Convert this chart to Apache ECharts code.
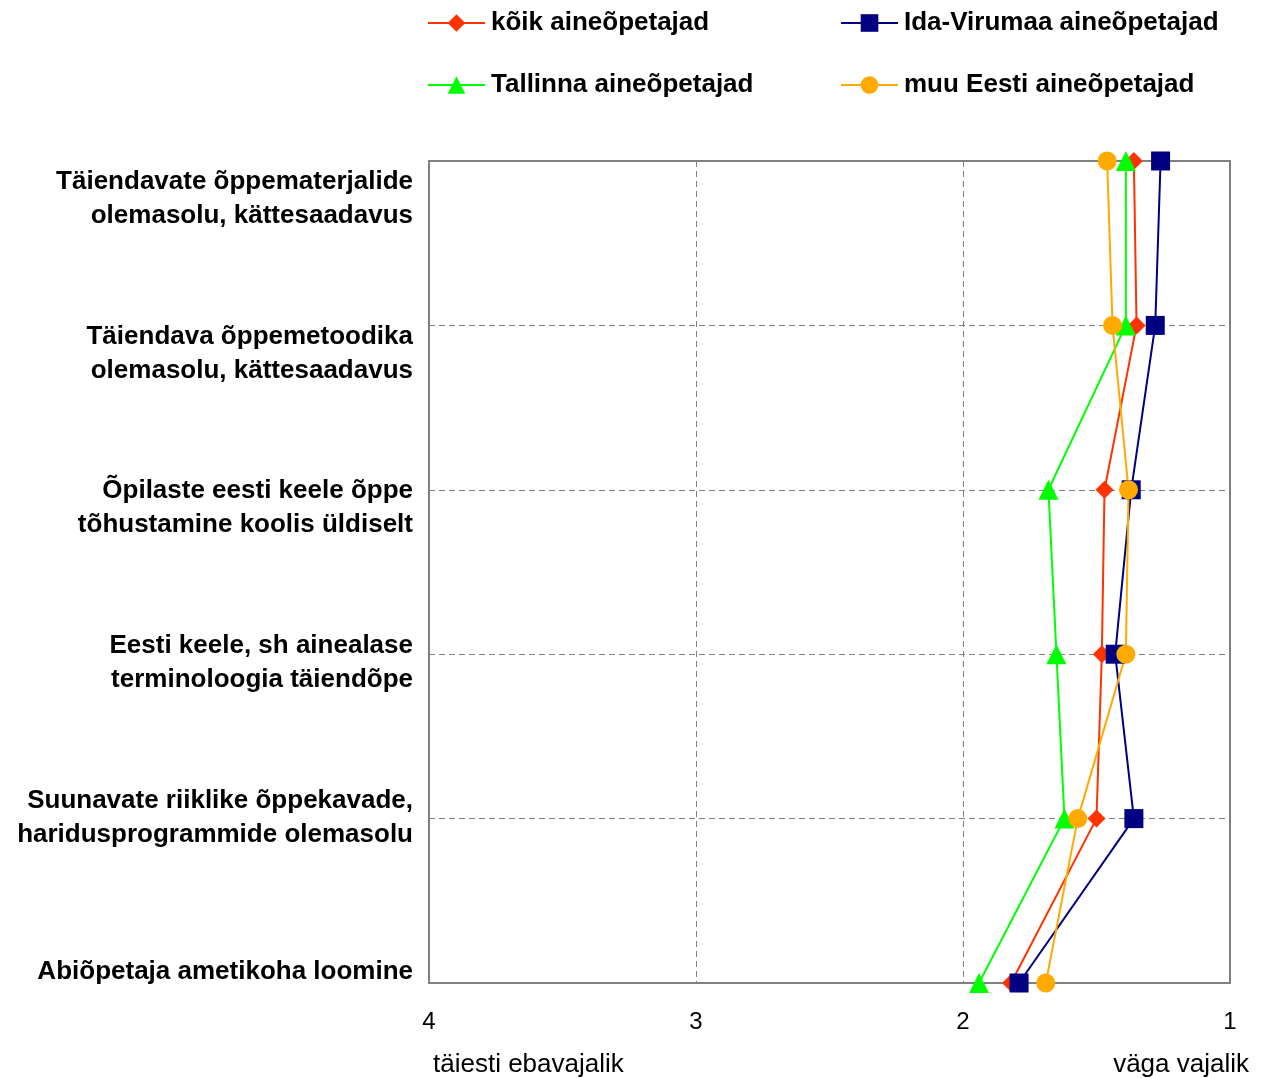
<!DOCTYPE html>
<html>
<head>
<meta charset="utf-8">
<script src="https://cdn.jsdelivr.net/npm/echarts@6/dist/echarts.min.js"></script>
<style>
  html, body { margin: 0; padding: 0; background: #fff; }
  #chart { width: 1268px; height: 1078px; }
</style>
</head>
<body>
<div id="chart"></div>
<script>
// kategooriad (ülevalt alla)
var categories = [
    'Täiendavate õppematerjalide\nolemasolu, kättesaadavus',
    'Täiendava õppemetoodika\nolemasolu, kättesaadavus',
    'Õpilaste eesti keele õppe\ntõhustamine koolis üldiselt',
    'Eesti keele, sh ainealase\nterminoloogia täiendõpe',
    'Suunavate riiklike õppekavade,\nharidusprogrammide olemasolu',
    'Abiõpetaja ametikoha loomine'
];
var seriesNames = ['kõik aineõpetajad', 'Ida-Virumaa aineõpetajad', 'Tallinna aineõpetajad', 'muu Eesti aineõpetajad'];
var koik = [1.36, 1.35, 1.47, 1.48, 1.50, 1.82];
var idaVirumaa = [1.26, 1.28, 1.37, 1.43, 1.36, 1.79];
var tallinn = [1.39, 1.39, 1.68, 1.65, 1.62, 1.94];
var muuEesti = [1.46, 1.44, 1.38, 1.39, 1.57, 1.69];
var xTicks = [1, 2, 3, 4];

var chart = echarts.init(document.getElementById('chart'));

var font = 'Liberation Sans, Arial, sans-serif';

function makeSeries(name, data, color, symbol, size) {
    return {
        name: name,
        type: 'line',
        data: data,
        xAxisIndex: 0,
        yAxisIndex: 0,
        symbol: symbol,
        symbolSize: size,
        lineStyle: { color: color, width: 2 },
        itemStyle: { color: color },
        animation: false
    };
}

var legendBase = {
    orient: 'vertical',
    top: 9,
    padding: 0,
    itemWidth: 57,
    itemHeight: 22,
    itemGap: 34,
    lineStyle: { width: 2 },
    textStyle: { fontSize: 26, fontWeight: 'bold', color: '#000', fontFamily: font, lineHeight: 28, padding: [0, 0, 0, 1] }
};

var option = {
    backgroundColor: '#fff',
    textStyle: { fontFamily: font },
    legend: [
        Object.assign({}, legendBase, { data: [seriesNames[0], seriesNames[2]], left: 427 }),
        Object.assign({}, legendBase, { data: [seriesNames[1], seriesNames[3]], left: 840 })
    ],
    grid: [{
        left: 429, right: 38, top: 161, bottom: 95,
        show: true,
        borderColor: '#808080',
        borderWidth: 2,
        backgroundColor: 'transparent'
    }, {
        // ainult siltide jaoks
        left: 429, right: 38, top: 199, bottom: 106,
        show: false
    }],
    xAxis: [{
        gridIndex: 0,
        type: 'value',
        min: 1,
        max: 4,
        interval: 1,
        inverse: true,
        axisLine: { show: false },
        axisTick: { show: false },
        axisLabel: {
            margin: 27,
            fontSize: 24,
            color: '#000',
            fontFamily: font,
            formatter: function (v) { return xTicks.indexOf(v) >= 0 ? String(v) : ''; }
        },
        splitLine: { show: true, lineStyle: { color: '#808080', type: [6, 4], width: 1 } }
    }, {
        gridIndex: 1,
        type: 'value',
        show: false
    }],
    yAxis: [{
        gridIndex: 0,
        type: 'category',
        data: categories,
        boundaryGap: false,
        inverse: true,
        axisLine: { show: false },
        axisTick: { show: false },
        axisLabel: { show: false },
        splitLine: { show: true, lineStyle: { color: '#808080', type: [6, 4], width: 1 } }
    }, {
        gridIndex: 1,
        type: 'category',
        data: categories,
        boundaryGap: false,
        inverse: true,
        axisLine: { show: false },
        axisTick: { show: false },
        splitLine: { show: false },
        axisLabel: {
            margin: 16,
            fontSize: 26,
            fontWeight: 'bold',
            color: '#000',
            align: 'right',
            lineHeight: 34,
            fontFamily: font
        }
    }],
    graphic: [{
        type: 'text',
        left: 433,
        top: 1052,
        style: { text: 'täiesti ebavajalik', font: '26px ' + font, fill: '#000' }
    }, {
        type: 'text',
        right: 19,
        top: 1052,
        style: { text: 'väga vajalik', font: '26px ' + font, fill: '#000' }
    }],
    series: [
        makeSeries(seriesNames[0], koik, '#FF3300', 'diamond', 18),
        makeSeries(seriesNames[1], idaVirumaa, '#000080', 'rect', 19),
        makeSeries(seriesNames[2], tallinn, '#00FF00', 'triangle', 20),
        makeSeries(seriesNames[3], muuEesti, '#FFAA00', 'circle', 19)
    ]
};

chart.setOption(option);
</script>
</body>
</html>
